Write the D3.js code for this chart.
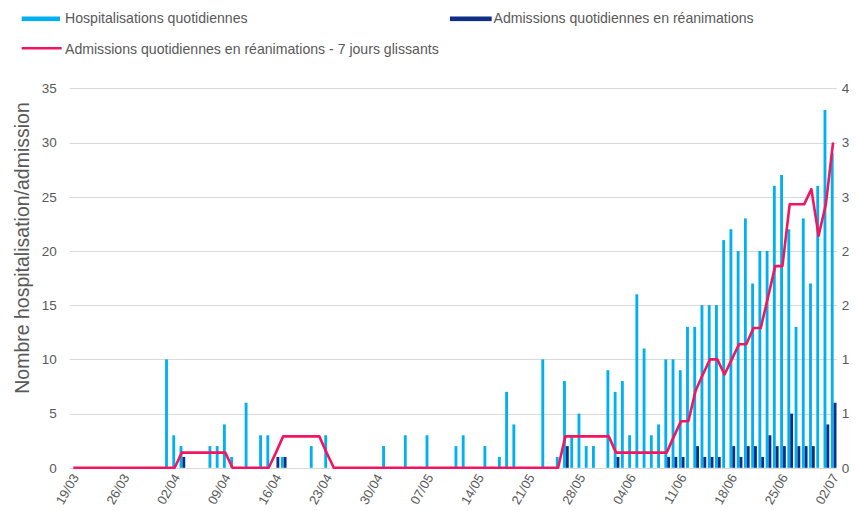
<!DOCTYPE html>
<html>
<head>
<meta charset="utf-8">
<script src="https://cdn.jsdelivr.net/npm/d3@7"></script>
<style>
  body { margin: 0; background: #fff; }
  svg text { font-family: "Liberation Sans", Arial, sans-serif; fill: #595959; }
</style>
</head>
<body>
<svg id="chart" width="857" height="511"></svg>
<script>
// categories: one per day from 19/03 to 02/07
var startDay = new Date(2020, 2, 19);
var days = d3.timeDays(startDay, new Date(2020, 6, 3));
var fmtDay = d3.timeFormat("%d/%m");

// values, one per day (rows = weeks)
var hospitalisations = [
  0,0,0,0,0,0,0,
  0,0,0,0,0,0,10,
  3,2,0,0,0,2,2,
  4,1,0,6,0,3,3,
  0,1,0,0,0,2,0,
  3,0,0,0,0,0,0,
  0,2,0,0,3,0,0,
  3,0,0,0,2,3,0,
  0,2,0,1,7,4,0,
  0,0,10,0,1,8,3,
  5,2,2,0,9,7,8,
  3,16,11,3,4,10,10,
  9,13,13,15,15,15,21,
  22,20,23,17,20,20,26,
  27,22,13,23,17,26,33,
  29
];

var reanimations = [
  0,0,0,0,0,0,0,
  0,0,0,0,0,0,0,
  0,1,0,0,0,0,0,
  0,0,0,0,0,0,0,
  1,1,0,0,0,0,0,
  0,0,0,0,0,0,0,
  0,0,0,0,0,0,0,
  0,0,0,0,0,0,0,
  0,0,0,0,0,0,0,
  0,0,0,0,0,2,0,
  0,0,0,0,0,1,0,
  0,0,0,0,0,1,1,
  1,0,2,1,1,1,0,
  2,1,2,2,1,3,2,
  2,5,2,2,2,0,4,
  6
];

// 7 day average, on the right axis
var reaGlissant = [
  0,0,0,0,0,0,0,
  0,0,0,0,0,0,0,
  0,0.14,0.14,0.14,0.14,0.14,0.14,
  0.14,0,0,0,0,0,0,
  0.14,0.29,0.29,0.29,0.29,0.29,0.29,
  0.14,0,0,0,0,0,0,
  0,0,0,0,0,0,0,
  0,0,0,0,0,0,0,
  0,0,0,0,0,0,0,
  0,0,0,0,0,0.29,0.29,
  0.29,0.29,0.29,0.29,0.29,0.14,0.14,
  0.14,0.14,0.14,0.14,0.14,0.14,0.29,
  0.43,0.43,0.71,0.86,1,1,0.86,
  1,1.14,1.14,1.29,1.29,1.57,1.86,
  1.86,2.43,2.43,2.43,2.57,2.14,2.43,
  3
];

var leftTicks = [0,5,10,15,20,25,30,35];
var rightTicks = [0,0.5,1,1.5,2,2.5,3,3.5];

var colHosp = "#00b0f0";
var colRea = "#0d2f86";
var colLine = "#f5145f";

var svg = d3.select("#chart");

var x = d3.scaleBand()
  .domain(d3.range(days.length))
  .range([69.7, 836.7])
  .padding(0);
var half = x.bandwidth() / 2;

var xInner = d3.scaleBand()
  .domain(["hosp","rea"])
  .range([-2.3, 3.4]);

var yLeft = d3.scaleLinear().domain([0,35]).range([467.8, 88.3]);
var yRight = d3.scaleLinear().domain([0,3.5]).range([467.8, 88.3]);

// gridlines
svg.append("g")
  .selectAll("line")
  .data(leftTicks)
  .join("line")
  .attr("x1", 69.7)
  .attr("x2", 836.7)
  .attr("y1", function(d){ return Math.round(yLeft(d)) + 0.5; })
  .attr("y2", function(d){ return Math.round(yLeft(d)) + 0.5; })
  .attr("stroke", "#d9d9d9")
  .attr("stroke-width", 1);

// left axis
var leftAxis = svg.append("g")
  .attr("transform", "translate(69.7,0)")
  .call(d3.axisLeft(yLeft).tickValues(leftTicks).tickSize(0).tickPadding(13));
leftAxis.select(".domain").remove();
leftAxis.selectAll("text").style("font-size", "13.5px").attr("fill", "#595959");

// right axis
var rightAxis = svg.append("g")
  .attr("transform", "translate(836.7,0)")
  .call(d3.axisRight(yRight).tickValues(rightTicks).tickSize(0).tickPadding(5)
    .tickFormat(function(d){ return Math.round(d); }));
rightAxis.select(".domain").remove();
rightAxis.selectAll("text").style("font-size", "13.5px").attr("fill", "#595959");

// x labels every 7 days
var labelIdx = d3.range(0, days.length, 7);
svg.append("g")
  .selectAll("text")
  .data(labelIdx)
  .join("text")
  .attr("transform", function(i){
    return "translate(" + (x(i) + half + 2) + ",475) rotate(-60)";
  })
  .attr("text-anchor", "end")
  .attr("dy", "0.35em")
  .style("font-size", "13px")
  .text(function(i){ return fmtDay(days[i]); });

// bars
svg.append("g")
  .selectAll("rect")
  .data(hospitalisations)
  .join("rect")
  .attr("x", function(d, i){ return x(i) + half + xInner("hosp"); })
  .attr("width", xInner.bandwidth())
  .attr("y", function(d){ return yLeft(d); })
  .attr("height", function(d){ return yLeft(0) - yLeft(d); })
  .attr("fill", colHosp);

svg.append("g")
  .selectAll("rect")
  .data(reanimations)
  .join("rect")
  .attr("x", function(d, i){ return x(i) + half + xInner("rea"); })
  .attr("width", xInner.bandwidth())
  .attr("y", function(d){ return yLeft(d); })
  .attr("height", function(d){ return yLeft(0) - yLeft(d); })
  .attr("fill", colRea);

// 7 day line
var line = d3.line()
  .x(function(d, i){ return x(i) + half; })
  .y(function(d){ return yRight(d); });

svg.append("path")
  .datum(reaGlissant)
  .attr("d", line)
  .attr("fill", "none")
  .attr("stroke", colLine)
  .attr("stroke-width", 2.6)
  .attr("stroke-linejoin", "round");

// y title
svg.append("text")
  .attr("transform", "translate(28.5,248) rotate(-90)")
  .attr("text-anchor", "middle")
  .style("font-size", "19.5px")
  .text("Nombre hospitalisation/admission");

// legend
var legend = svg.append("g");
legend.append("rect").attr("x", 21.7).attr("y", 16.5).attr("width", 38.3).attr("height", 4.6).attr("fill", colHosp);
legend.append("text").attr("x", 65).attr("y", 23).style("font-size", "14.1px").text("Hospitalisations quotidiennes");
legend.append("rect").attr("x", 450).attr("y", 16.5).attr("width", 41.7).attr("height", 4.6).attr("fill", colRea);
legend.append("text").attr("x", 493.5).attr("y", 23).style("font-size", "14.1px").text("Admissions quotidiennes en réanimations");
legend.append("line").attr("x1", 21.7).attr("x2", 61.7).attr("y1", 48.3).attr("y2", 48.3).attr("stroke", colLine).attr("stroke-width", 2.6);
legend.append("text").attr("x", 65).attr("y", 53.5).style("font-size", "14.1px").text("Admissions quotidiennes en réanimations - 7 jours glissants");
</script>
</body>
</html>
